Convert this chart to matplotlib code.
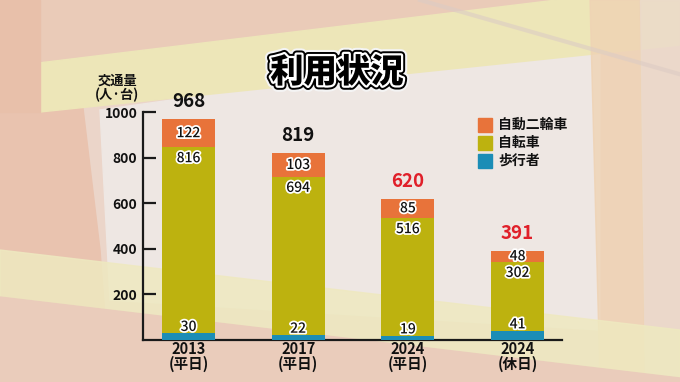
import matplotlib
matplotlib.use("Agg")
import matplotlib.pyplot as plt
import matplotlib.patheffects as pe
from matplotlib.patches import Polygon, Rectangle
import numpy as np

plt.rcParams['font.family'] = ['Noto Sans CJK JP', 'DejaVu Sans']

# ---- data ----
categories = ["2013\n(平日)", "2017\n(平日)", "2024\n(平日)", "2024\n(休日)"]
walkers = [30, 22, 19, 41]
bicycles = [816, 694, 516, 302]
motorbikes = [122, 103, 85, 48]
totals = [968, 819, 620, 391]
total_colors = ["#111111", "#111111", "#E0202A", "#E0202A"]
series_names = ["自動二輪車", "自転車", "歩行者"]
yticks = [200, 400, 600, 800, 1000]

c_moto = "#E8733A"
c_bike = "#BDB20F"
c_walk = "#1B8DB6"

fig = plt.figure(figsize=(6.8, 3.82), dpi=100)

# ---- background ----
bg = fig.add_axes([0, 0, 1, 1], zorder=0)
bg.set_xlim(0, 680)
bg.set_ylim(382, 0)
bg.axis('off')
bg.add_patch(Rectangle((0, 0), 680, 382, color="#EBD5C9"))
bg.add_patch(Polygon([(0, 0), (70, 0), (100, 250), (110, 382), (0, 382)], color="#E9C3AF"))
bg.add_patch(Polygon([(100, 110), (600, 40), (600, 330), (110, 300)], color="#EEE7E3"))
bg.add_patch(Polygon([(0, 0), (680, 0), (680, -10), (40, 62), (0, 70)], color="#EACBB8"))
bg.add_patch(Polygon([(30, 64), (680, -15), (680, 45), (40, 112), (30, 112)], color="#EDE6B8"))
bg.add_patch(Polygon([(0, 0), (40, 0), (40, 112), (0, 112)], color="#E8C0AA"))
bg.add_patch(Polygon([(590, 0), (640, 0), (645, 382), (600, 382)], color="#EFD3B4", alpha=0.8))
bg.add_patch(Polygon([(640, 0), (680, 0), (680, 382), (645, 382)], color="#EBDACB", alpha=0.8))
bg.add_patch(Polygon([(0, 250), (680, 330), (680, 378), (0, 297)], color="#EEE9C0", alpha=0.85))
bg.add_patch(Polygon([(0, 297), (680, 378), (680, 382), (0, 382)], color="#EACCBB"))
bg.plot([420, 700], [0, 80], color="#DCCCC4", lw=3, alpha=0.6)

# ---- chart ----
ax = fig.add_axes([143 / 680, 42 / 382, 419 / 680, 228 / 382], zorder=2)
ax.patch.set_alpha(0)
x = np.arange(len(categories))
w = 0.483
b1 = np.array(walkers)
b2 = b1 + np.array(bicycles)
ax.bar(x, walkers, w, color=c_walk, zorder=3)
ax.bar(x, bicycles, w, bottom=b1, color=c_bike, zorder=3)
ax.bar(x, motorbikes, w, bottom=b2, color=c_moto, zorder=3)

ax.set_xlim(-0.415, 3.405)
ax.set_ylim(0, 1000)
for s in ['top', 'right']:
    ax.spines[s].set_visible(False)
ax.spines['left'].set_linewidth(1.6)
ax.spines['bottom'].set_linewidth(1.6)
ax.spines['left'].set_color('#1a1a1a')
ax.spines['bottom'].set_color('#1a1a1a')
ax.set_yticks(yticks)
ax.set_yticklabels([str(v) for v in yticks], fontsize=10, fontweight='bold', color='#111111')
ax.tick_params(axis='y', direction='in', length=9, width=1.6, pad=4, color='#1a1a1a')
ax.set_xticks(x)
ax.set_xticklabels(categories, fontsize=10.5, fontweight='bold', color='#111111', linespacing=0.9)
ax.tick_params(axis='x', length=0, pad=1)

stroke = [pe.withStroke(linewidth=2.5, foreground='white')]
for i in range(len(x)):
    ax.text(x[i], b2[i] + motorbikes[i] / 2, str(motorbikes[i]), ha='center', va='center',
            fontsize=10, fontweight='medium', color='#111111', path_effects=stroke, zorder=5)
    ax.annotate(str(bicycles[i]), (x[i], b2[i]), xytext=(0, -8), textcoords='offset points',
                ha='center', va='center', fontsize=10, fontweight='medium', color='#111111',
                path_effects=stroke, zorder=5)
    ax.annotate(str(walkers[i]), (x[i], b1[i]), xytext=(0, 4.5), textcoords='offset points',
                ha='center', va='center', fontsize=10, fontweight='medium', color='#111111',
                path_effects=stroke, zorder=5)
    ax.annotate(str(totals[i]), (x[i], totals[i]), xytext=(0, 12.5), textcoords='offset points',
                ha='center', va='center', fontsize=13.5, fontweight='bold', color=total_colors[i], zorder=5)

# y label
fig.text(117 / 680, 1 - 81 / 382, "交通量", ha='center', va='center', fontsize=9.5,
         fontweight='bold', color='#111111')
fig.text(117 / 680, 1 - 95 / 382, "(人·台)", ha='center', va='center', fontsize=9.5,
         fontweight='bold', color='#111111')

# title
fig.text(337 / 680, 1 - 72 / 382, "利用状況", ha='center', va='center', fontsize=24,
         fontweight='heavy', color='black', zorder=10,
         path_effects=[pe.Stroke(linewidth=9, foreground='#f4f4f4'),
                       pe.Stroke(linewidth=6, foreground='black'),
                       pe.Stroke(linewidth=3.2, foreground='white'),
                       pe.Normal()])

# legend
leg_colors = [c_moto, c_bike, c_walk]
leg_y = [125, 143, 161]
for name, col, yy in zip(series_names, leg_colors, leg_y):
    fig.patches.append(Rectangle((478 / 680, 1 - (yy + 7) / 382), 14 / 680, 14 / 382,
                                 transform=fig.transFigure, color=col, zorder=5))
    fig.text(498 / 680, 1 - yy / 382, name, ha='left', va='center', fontsize=10,
             fontweight='bold', color='#111111')

fig.savefig("out.png", dpi=100)
